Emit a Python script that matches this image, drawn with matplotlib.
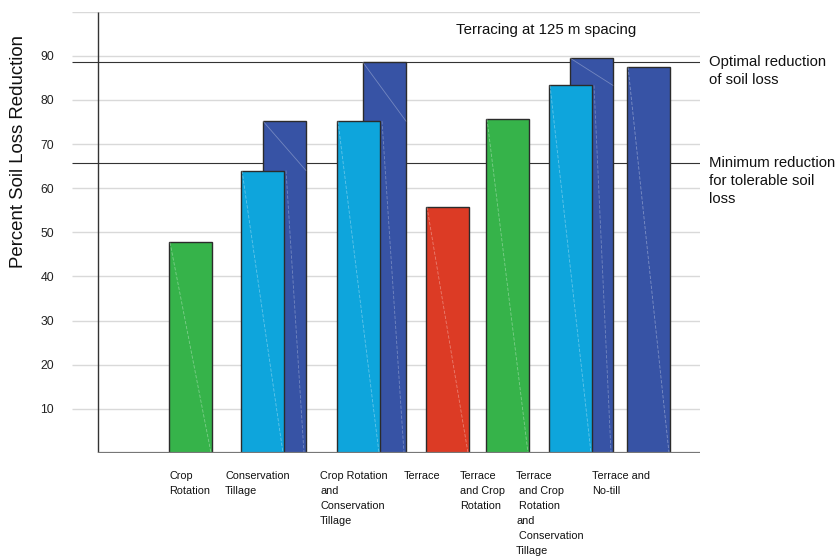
import matplotlib.pyplot as plt

plt.rcParams['font.family'] = ['Liberation Sans', 'DejaVu Sans']

# data
categories = ['Crop\nRotation', 'Conservation\nTillage',
              'Crop Rotation\nand\nConservation\nTillage', 'Terrace',
              'Terrace\nand Crop\nRotation',
              'Terrace\n and Crop\n Rotation\nand\n Conservation\nTillage',
              'Terrace and\nNo-till']
front_values = [47.7, 64.0, 75.2, 55.7, 75.7, 83.3, 87.5]
back_values = [None, 75.2, 88.5, None, None, 89.5, None]
optimal_level = 88.6
minimum_level = 65.8
y_ticks = [10, 20, 30, 40, 50, 60, 70, 80, 90]

# layout (x in pixel units of the figure)
front_left = [169, 241, 337, 426, 486, 549, 627]
back_left = [None, 263, 363, None, None, 570, None]
label_left = [169, 225, 320, 404, 460, 516, 592]
bar_w = 43

GREEN = '#36b34a'
LBLUE = '#0ea5dc'
DBLUE = '#3753a5'
RED = '#dc3b25'
front_colors = [GREEN, LBLUE, LBLUE, RED, GREEN, LBLUE, DBLUE]

W, H = 838, 560
fig = plt.figure(figsize=(W / 100, H / 100), dpi=100)
ax = fig.add_axes([72 / W, (H - 453) / H, (700 - 72) / W, (453 - 11.7) / H])
ax.set_xlim(72, 700)
ax.set_ylim(0, 100)
for s in ax.spines.values():
    s.set_visible(False)

# grid
ax.hlines(range(10, 101, 10), 72, 700, color='#d9d9d9', lw=1, zorder=0)
ax.hlines([optimal_level, minimum_level], 72, 700, color='#333333', lw=0.8, zorder=1)

# bars
for i, v in enumerate(front_values):
    b = back_values[i]
    if b is not None:
        bl = back_left[i]
        ax.bar(bl, b, width=bar_w, align='edge', color=DBLUE,
               edgecolor='#2b2b2b', lw=1, zorder=2)
        fr = front_left[i] + bar_w
        ax.plot([bl, bl + bar_w], [b, v], color='white', alpha=0.3, lw=0.6, zorder=2.5)
        ax.plot([fr + 2, bl + bar_w - 2], [v, 0], color='white', alpha=0.3, lw=0.6,
                ls=(0, (4, 2)), zorder=2.5)
    fl = front_left[i]
    ax.bar(fl, v, width=bar_w, align='edge', color=front_colors[i],
           edgecolor='#2b2b2b', lw=1, zorder=3)
    ax.plot([fl + 1, fl + bar_w - 1], [v, 0], color='white', alpha=0.35, lw=0.6,
            ls=(0, (4, 2)), zorder=3.5)

# axis lines
ax.vlines(98, 0, 100, color='#333333', lw=1, zorder=4)
ax.hlines(0, 98, 700, color='#777777', lw=1.6, zorder=4)

ax.set_xticks([])
ax.set_yticks(y_ticks)
ax.tick_params(axis='y', length=0, pad=13, labelsize=8.8, labelcolor='#222222')

def px(x, y):
    return x / W, 1 - y / H

fig.text(*px(19, 152), 'Percent Soil Loss Reduction', rotation=90,
         ha='center', va='center', fontsize=13.4, color='#111111')
fig.text(*px(456, 30), 'Terracing at 125 m spacing', ha='left', va='center',
         fontsize=10.8, color='#111111')
fig.text(*px(709, 55), 'Optimal reduction\nof soil loss', ha='left', va='top',
         fontsize=10.7, linespacing=1.36, color='#111111')
fig.text(*px(709, 156), 'Minimum reduction\nfor tolerable soil\nloss', ha='left', va='top',
         fontsize=10.7, linespacing=1.36, color='#111111')

for i, lab in enumerate(categories):
    fig.text(*px(label_left[i], 471), lab, ha='left', va='top', fontsize=7.8,
             linespacing=1.62, color='#111111')

fig.savefig('out.png', dpi=100)
